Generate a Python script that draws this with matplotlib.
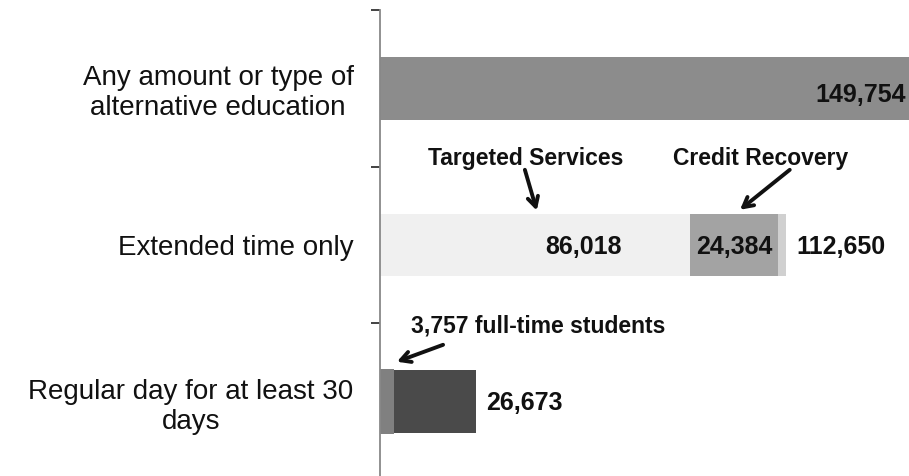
import matplotlib
matplotlib.use("Agg")
import matplotlib.pyplot as plt
from matplotlib.transforms import blended_transform_factory

plt.rcParams['font.family'] = ['Liberation Sans', 'DejaVu Sans']

# Categories (top to bottom)
categories = [
    "Any amount or type of\nalternative education",
    "Extended time only",
    "Regular day for at least 30\ndays",
]

# Totals per category
totals = [149754, 112650, 26673]

# Extended time only breakdown
targeted_services = 86018
credit_recovery = 24384
extended_other = totals[1] - targeted_services - credit_recovery

# Regular day breakdown
full_time = 3757
regular_other = totals[2] - full_time

W, H = 909, 476
fig = plt.figure(figsize=(W / 100, H / 100), dpi=100)

# axis origin at x=380px; 1 px ~ 277.5 students; axes run past the right edge
px_per_unit = 310 / 86018
xmax = 160000
ax_w = xmax * px_per_unit
ax = fig.add_axes([380 / W, (H - 480) / H, ax_w / W, 470 / H])
ax.set_xlim(0, xmax)
ax.set_ylim(2.5, -0.5)

bh = 0.40
# Any amount
ax.barh(0, totals[0], height=bh, color="#8c8c8c")
# Extended time only (stacked)
ax.barh(1, targeted_services, height=bh, color="#f0f0f0")
ax.barh(1, credit_recovery, left=targeted_services, height=bh, color="#a3a3a3")
ax.barh(1, extended_other, left=targeted_services + credit_recovery,
        height=bh, color="#d0d0d0")
# Regular day (stacked)
ax.barh(2, full_time, height=bh + 0.012, color="#808080")
ax.barh(2, regular_other, left=full_time, height=bh, color="#4a4a4a")

# Axis styling
for s in ["top", "right", "bottom"]:
    ax.spines[s].set_visible(False)
ax.spines["left"].set_color("#888888")
ax.spines["left"].set_linewidth(1.3)
ax.set_xticks([])
ax.set_yticks([0, 1, 2])
ax.set_yticklabels(categories, fontsize=20, color="#111111")
for lab in ax.get_yticklabels():
    lab.set_multialignment("center")
ax.tick_params(axis="y", which="major", length=0, pad=19)
ax.set_yticks([-0.5, 0.5, 1.5, 2.5], minor=True)
ax.tick_params(axis="y", which="minor", length=6.5, width=1.2,
               color="#222222", direction="out")

vfont = dict(fontsize=18, fontweight="bold", color="#111111")
afont = dict(fontsize=16.5, fontweight="bold", color="#111111")

# Value labels
edge = blended_transform_factory(fig.transFigure, ax.transData)
ax.text(0.997, 0.04, f"{totals[0]:,}", transform=edge,
        ha="right", va="center", **vfont)
ax.text(targeted_services - 68 / px_per_unit, 1.01, f"{targeted_services:,}",
        ha="right", va="center", **vfont)
ax.text(targeted_services + credit_recovery / 2, 1.01, f"{credit_recovery:,}",
        ha="center", va="center", **vfont)
ax.text(totals[1] + 10 / px_per_unit, 1.01, f"{totals[1]:,}",
        ha="left", va="center", **vfont)
ax.text(totals[2] + 10 / px_per_unit, 2.01, f"{totals[2]:,}",
        ha="left", va="center", **vfont)

# Callouts
arrow = dict(arrowstyle="->,head_length=0.7,head_width=0.38", lw=2.8,
             color="#111111", shrinkA=0, shrinkB=0)
ax.text(40500, 0.445, "Targeted Services", ha="center", va="center", **afont)
ax.annotate("", xy=(43500, 0.78), xytext=(40200, 0.52), arrowprops=dict(arrow))
ax.text(105700, 0.447, "Credit Recovery", ha="center", va="center", **afont)
ax.annotate("", xy=(99900, 0.775), xytext=(113700, 0.52), arrowprops=dict(arrow))
ax.text(43800, 1.516, f"{full_time:,} full-time students",
        ha="center", va="center", **afont)
ax.annotate("", xy=(4700, 1.745), xytext=(17500, 1.637), arrowprops=dict(arrow))

fig.savefig("out.png", dpi=100)
